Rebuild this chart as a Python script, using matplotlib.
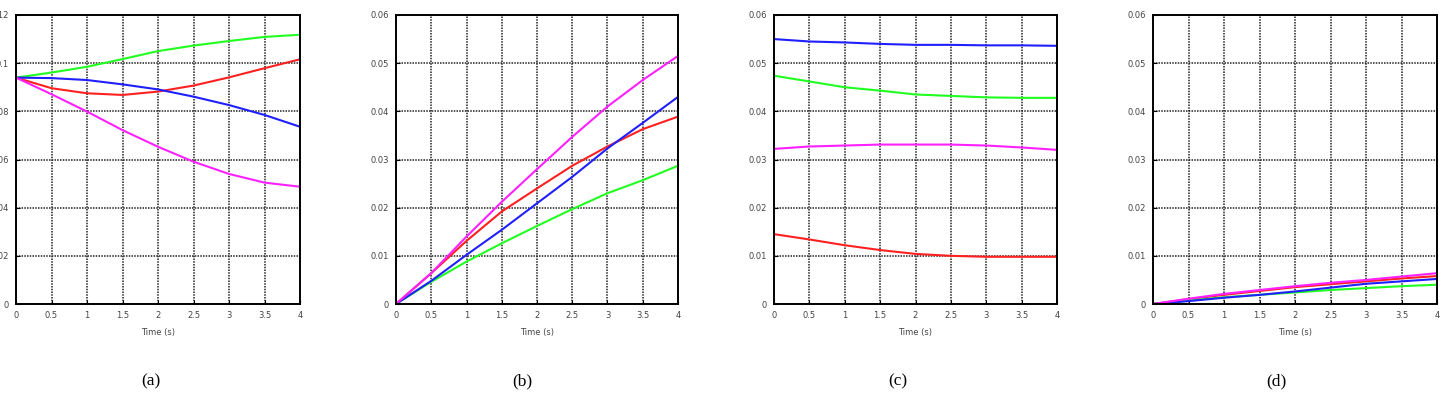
import matplotlib
matplotlib.use("Agg")
import matplotlib.pyplot as plt
import numpy as np

# time samples (s)
t = [0, 0.5, 1, 1.5, 2, 2.5, 3, 3.5, 4]

# panel (a)
a_green = [0.0940, 0.0961, 0.0985, 0.1017, 0.1050, 0.1073, 0.1092, 0.1109, 0.1118]
a_red = [0.0940, 0.0896, 0.0875, 0.0868, 0.0882, 0.0907, 0.0941, 0.0979, 0.1016]
a_blue = [0.0940, 0.0938, 0.0930, 0.0912, 0.0891, 0.0861, 0.0826, 0.0785, 0.0736]
a_magenta = [0.0940, 0.0871, 0.0799, 0.0722, 0.0653, 0.0591, 0.0540, 0.0504, 0.0487]

# panel (b)
b_green = [0, 0.0046, 0.0088, 0.0126, 0.0162, 0.0197, 0.0230, 0.0257, 0.0287]
b_red = [0, 0.0064, 0.0131, 0.0192, 0.0240, 0.0287, 0.0327, 0.0363, 0.0389]
b_blue = [0, 0.0048, 0.0102, 0.0154, 0.0209, 0.0264, 0.0323, 0.0376, 0.0430]
b_magenta = [0, 0.0064, 0.0140, 0.0212, 0.0280, 0.0347, 0.0410, 0.0465, 0.0515]

# panel (c)
c_green = [0.0474, 0.0462, 0.0450, 0.0443, 0.0435, 0.0432, 0.0429, 0.0428, 0.0428]
c_red = [0.0145, 0.0134, 0.0122, 0.0112, 0.0104, 0.0100, 0.0098, 0.0098, 0.0098]
c_blue = [0.0550, 0.0545, 0.0543, 0.0540, 0.0538, 0.0538, 0.0537, 0.0537, 0.0536]
c_magenta = [0.0322, 0.0327, 0.0329, 0.0331, 0.0331, 0.0331, 0.0329, 0.0325, 0.0320]

# panel (d)
d_green = [0, 0.0007, 0.0014, 0.0019, 0.0024, 0.0029, 0.0033, 0.0037, 0.0040]
d_red = [0, 0.0010, 0.0019, 0.0027, 0.0035, 0.0041, 0.0047, 0.0053, 0.0058]
d_blue = [0, 0.0006, 0.0013, 0.0019, 0.0026, 0.0034, 0.0042, 0.0047, 0.0052]
d_magenta = [0, 0.0011, 0.0021, 0.0029, 0.0037, 0.0044, 0.0050, 0.0057, 0.0064]

x_ticks = [0, 0.5, 1, 1.5, 2, 2.5, 3, 3.5, 4]
x_labels = ["0", "0.5", "1", "1.5", "2", "2.5", "3", "3.5", "4"]
ya_ticks = [0, 0.02, 0.04, 0.06, 0.08, 0.1, 0.12]
ya_labels = ["0", "0.02", "0.04", "0.06", "0.08", "0.1", "0.12"]
yb_ticks = [0, 0.01, 0.02, 0.03, 0.04, 0.05, 0.06]
yb_labels = ["0", "0.01", "0.02", "0.03", "0.04", "0.05", "0.06"]
captions = ["(a)", "(b)", "(c)", "(d)"]

panels = [
    (a_green, a_red, a_blue, a_magenta, ya_ticks, ya_labels),
    (b_green, b_red, b_blue, b_magenta, yb_ticks, yb_labels),
    (c_green, c_red, c_blue, c_magenta, yb_ticks, yb_labels),
    (d_green, d_red, d_blue, d_magenta, yb_ticks, yb_labels),
]

W, H = 1444, 396
fig = plt.figure(figsize=(W / 100, H / 100), dpi=100)

# pixel boxes of the axes: left, right
boxes = [(16, 300), (396, 678), (774, 1057), (1153, 1437)]
top, bottom = 15, 304
cap_x = [151, 522, 898, 1276]

for i, (g, r, b, m, yt, yl) in enumerate(panels):
    l, rr = boxes[i]
    ax = fig.add_axes([l / W, (H - bottom) / H, (rr - l) / W, (bottom - top) / H])
    ax.plot(t, r, color="#ff2020", lw=1.5)
    ax.plot(t, g, color="#20ff20", lw=1.5)
    ax.plot(t, b, color="#2020ff", lw=1.5)
    ax.plot(t, m, color="#ff20ff", lw=1.5)
    ax.set_xlim(0, 4)
    ax.set_ylim(yt[0], yt[-1])
    ax.set_xticks(x_ticks)
    ax.set_xticklabels(x_labels)
    ax.set_yticks(yt)
    ax.set_yticklabels(yl)
    ax.tick_params(direction="in", length=3, labelsize=6, labelcolor="#444444", pad=5)
    ax.grid(True, color="#222222", linestyle=(0, (1, 0.8)), linewidth=1.1)
    for s in ax.spines.values():
        s.set_linewidth(1.4)
    ax.set_xlabel("Time (s)", fontsize=6, color="#444444", labelpad=6)
    fig.text(cap_x[i] / W, 1 - 381 / H, captions[i], ha="center", va="center",
             fontsize=12.5, family="Liberation Serif")

fig.savefig("out.png", dpi=100)
